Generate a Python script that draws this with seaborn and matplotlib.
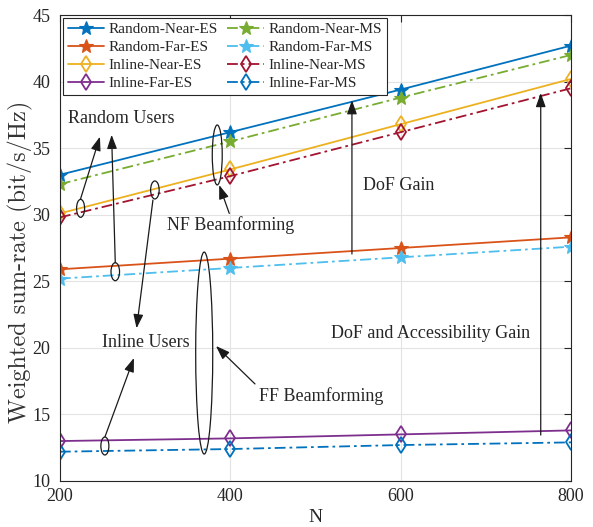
import matplotlib
matplotlib.use("Agg")
import matplotlib.pyplot as plt
from matplotlib.patches import Ellipse
import seaborn as sns
import pandas as pd

N = [200, 400, 600, 800]
random_near_es = [33.0, 36.2, 39.4, 42.7]
random_far_es = [25.9, 26.7, 27.5, 28.3]
inline_near_es = [30.1, 33.4, 36.8, 40.2]
inline_far_es = [13.0, 13.2, 13.5, 13.8]
random_near_ms = [32.3, 35.5, 38.8, 42.0]
random_far_ms = [25.2, 26.0, 26.8, 27.6]
inline_near_ms = [29.8, 32.9, 36.2, 39.5]
inline_far_ms = [12.2, 12.4, 12.7, 12.9]

series_names = ["Random-Near-ES", "Random-Far-ES", "Inline-Near-ES", "Inline-Far-ES",
                "Random-Near-MS", "Random-Far-MS", "Inline-Near-MS", "Inline-Far-MS"]
series_values = [random_near_es, random_far_es, inline_near_es, inline_far_es,
                 random_near_ms, random_far_ms, inline_near_ms, inline_far_ms]
colors = ["#0072BD", "#D95319", "#EDB120", "#7E2F8E",
          "#77AC30", "#4DBEEE", "#A2142F", "#0072BD"]

sns.set_theme(style="white")
plt.rcParams['font.family'] = ['Liberation Serif', 'DejaVu Serif']
plt.rcParams['mathtext.fontset'] = 'stix'

fig = plt.figure(figsize=(5.93, 5.27), dpi=100)
ax = fig.add_axes([0.101, 0.0873, 0.862, 0.8842])

dashdot = (0, (6, 2.2, 1.5, 2.2))
for name, vals, col in zip(series_names, series_values, colors):
    df = pd.DataFrame({"N": N, "rate": vals})
    is_ms = name.endswith("MS")
    is_inline = name.startswith("Inline")
    marker = "d" if is_inline else "*"
    sns.lineplot(data=df, x="N", y="rate", ax=ax, color=col, lw=1.3,
                 linestyle=dashdot if is_ms else "-",
                 marker=marker, markersize=8 if is_inline else 10,
                 markerfacecolor="none" if is_inline else col,
                 markeredgecolor=col, markeredgewidth=1.3 if is_inline else 0.8,
                 label=name)

ax.set_xlim(200, 800)
ax.set_ylim(10, 45)
ax.set_xticks([200, 400, 600, 800])
ax.set_yticks([10, 15, 20, 25, 30, 35, 40, 45])
ax.grid(True, color="#e3e3e3", lw=0.8)
for s in ax.spines.values():
    s.set_color("#262626")
    s.set_linewidth(0.8)
ax.tick_params(direction="in", top=True, right=True, length=5, width=0.8,
               color="#262626", labelsize=13, labelcolor="#262626")
ax.tick_params(axis="y", pad=7)
ax.tick_params(axis="x", pad=5)
ax.set_xlabel("N", fontsize=14, color="#262626", labelpad=3)
ax.set_ylabel("Weighted sum-rate (bit/s/Hz)", fontsize=17.5, color="#333333",
              family=["cmr10", "DejaVu Serif"])
ax.yaxis.set_label_coords(-0.053, 0.47)

leg = ax.legend(loc="upper left", ncol=2, fontsize=11, frameon=True, fancybox=False,
                edgecolor="#262626", framealpha=1, borderpad=0.3, labelspacing=0.28,
                handlelength=2.4, handletextpad=0.3, columnspacing=0.6,
                borderaxespad=0.2)
leg.get_frame().set_linewidth(0.8)

# annotations
tfs = 13
ax.text(209, 37.26, "Random Users", fontsize=tfs, va="center", ha="left")
ax.text(325.6, 29.23, "NF Beamforming", fontsize=tfs, va="center", ha="left")
ax.text(249.3, 20.37, "Inline Users", fontsize=tfs, va="center", ha="left")
ax.text(433.6, 16.38, "FF Beamforming", fontsize=tfs, va="center", ha="left")
ax.text(555.4, 32.23, "DoF Gain", fontsize=tfs, va="center", ha="left")
ax.text(517.8, 21.09, "DoF and Accessibility Gain", fontsize=tfs, va="center", ha="left")

ellipses = [
    (224.3, 30.48, 9.4, 1.35),
    (265.0, 25.72, 10.0, 1.35),
    (311.5, 31.86, 10.0, 1.35),
    (384.7, 34.49, 11.7, 4.5),
    (369.4, 19.61, 20.0, 15.17),
    (252.8, 12.63, 9.4, 1.35),
]
for cx, cy, w, h in ellipses:
    ax.add_patch(Ellipse((cx, cy), w, h, fill=False, edgecolor="k", lw=0.9, zorder=5))

arrows = [
    ((247.0, 35.86), (224.3, 31.2)),
    ((260.7, 36.0), (265.0, 26.4)),
    ((290.0, 21.47), (309.2, 31.1)),
    ((387.0, 32.23), (398.8, 30.1)),
    ((383.2, 20.14), (429.0, 17.29)),
    ((286.9, 19.24), (252.8, 13.3)),
    ((542.8, 38.6), (542.8, 27.05)),
    ((764.4, 39.14), (764.4, 13.45)),
]
for tip, tail in arrows:
    ax.annotate("", xy=tip, xytext=tail,
                arrowprops=dict(arrowstyle="-|>,head_length=0.7,head_width=0.25",
                                color="k", lw=0.9, shrinkA=0, shrinkB=0),
                zorder=6)

fig.savefig("out.png", dpi=100)
